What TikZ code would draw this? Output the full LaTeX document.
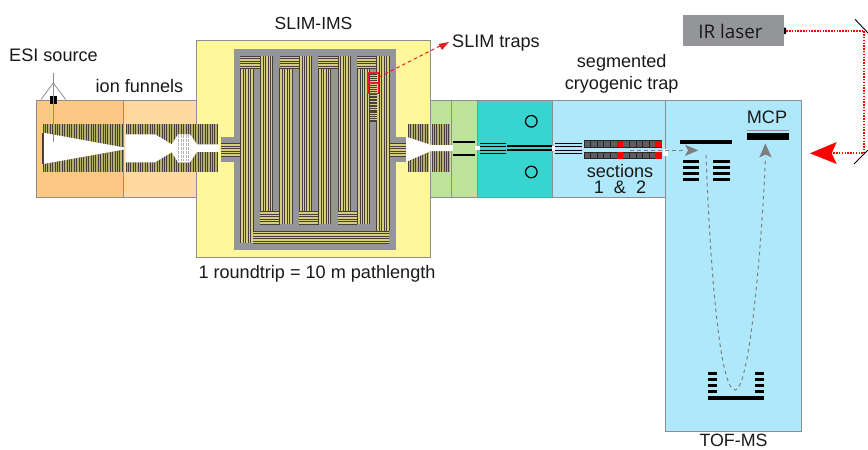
\documentclass[tikz,border=0pt]{standalone}
\usepackage{fontspec}
\setmainfont{Liberation Sans}
\newfontfamily\laserfont{Open Sans}
\definecolor{edgegrey}{HTML}{8C8E90}
\definecolor{slimgrey}{HTML}{939598}
\definecolor{esiorange}{HTML}{FDC785}
\definecolor{funorange}{HTML}{FFD9A0}
\definecolor{slimyellow}{HTML}{FFF799}
\definecolor{trackyellow}{HTML}{D6CD7E}
\definecolor{elecdark}{HTML}{45413A}
\definecolor{ltgreen}{HTML}{BDE39B}
\definecolor{teal2}{HTML}{38D4CF}
\definecolor{ltblue}{HTML}{AEE8FA}
\definecolor{segdark}{HTML}{5C5C5E}
\definecolor{redmark}{HTML}{ED1C24}
\newcommand{\vtrk}[4]{%
  \fill[trackyellow] (#1,#3) rectangle (#2,#4);
  \foreach \i in {0,...,5} {\draw[elecdark,line width=.45pt] ({#1+(#2-#1)*\i/5},#3) -- ({#1+(#2-#1)*\i/5},#4);}}
\newcommand{\htrk}[4]{%
  \fill[trackyellow] (#1,#3) rectangle (#2,#4);
  \foreach \i in {0,...,5} {\draw[elecdark,line width=.45pt] (#1,{#3+(#4-#3)*\i/5}) -- (#2,{#3+(#4-#3)*\i/5});}}
\newcommand{\fnl}[3]{%
  \fill[trackyellow!85!black] (#1,124.3) rectangle (#2,172.3);
  \foreach \x in {#1,#3,...,#2} {\draw[elecdark,line width=.95pt] (\x,124.3) -- (\x,172.3);}}
\newcommand{\bars}[2]{%
  \foreach \y in {#2} {\fill[black] (#1,\y) rectangle ++(\barw,3.5);}}
\newcommand{\seg}[1]{%
  \fill[segdark] (584,#1) rectangle (661.5,#1+6.6);
  \draw[black!85,line width=.6pt] (584,#1) rectangle (661.5,#1+6.6);
  \foreach \x in {590.5,597,603.5,610,629.5,636,642.5,649} {\draw[black!85,line width=.6pt] (\x,#1) -- (\x,#1+6.6);}
  \fill[red] (616.7,#1) rectangle (623.3,#1+6.6);
  \fill[red] (654.5,#1) rectangle (661.5,#1+6.6);}
\tikzset{
  stage/.style={draw=edgegrey,line width=1pt},
  lbl/.style={font=\fontsize{18.1}{20}\selectfont,text=black!90,inner sep=0pt},
  ionpath/.style={draw=slimgrey!85!black,line width=1pt,dash pattern=on 3.5pt off 3.5pt},
  laser/.style={draw=red,line width=1.9pt,dash pattern=on 1.5pt off 1.3pt},
  blackline/.style={draw=black,line width=1.9pt},
  thinline/.style={draw=black,line width=.8pt},
  mirror/.style={draw=black,line width=.9pt},
}
\begin{document}
\begin{tikzpicture}[x=1pt,y=-1pt]
\useasboundingbox (0,0) rectangle (868,450);
% stage boxes
\filldraw[stage,fill=esiorange] (36,100) rectangle (123.5,197);
\filldraw[stage,fill=funorange] (123.5,100) rectangle (196.5,197);
\filldraw[stage,fill=slimyellow] (196.5,40.5) rectangle (430.5,257);
\filldraw[stage,fill=ltgreen] (430.5,100) rectangle (451,197);
\filldraw[stage,fill=ltgreen] (451,100) rectangle (477,197);
\filldraw[stage,fill=teal2] (477,100) rectangle (552.5,197);
\filldraw[stage,fill=ltblue] (552.5,100) rectangle (665.5,197);
\filldraw[stage,fill=ltblue] (665.5,100) rectangle (801,431);
% ESI needle
\draw[edgegrey,line width=.8pt] (41,99.5) -- (53.3,83) -- (65.7,99.5);
\fill[black] (50,96) rectangle (56.7,103.5);
\draw[edgegrey,line width=.9pt] (53.3,72.7) -- (53.3,141.7);
% funnels
\fnl{43}{123}{45.4}
\fnl{126}{218}{128.4}
\fnl{408.5}{429}{410.9}
\fnl{432}{449.5}{434.4}
% white ion channels
\fill[white] (43.3,132.7) -- (124,147.5) -- (124,149.5) -- (43.3,164) -- cycle;
\fill[elecdark] (42,132.7) rectangle (44,164);
\draw[edgegrey,line width=.9pt] (53.3,132) -- (53.3,141.7);
\fill[white] (125.3,134.3) -- (155,134.3) -- (171.7,144.3) -- (178,134.3) -- (190,134.3) -- (197,144.3) -- (218.5,144.3) -- (218.5,151.8) -- (197,151.8) -- (190,162.3) -- (178,162.3) -- (171.7,152.3) -- (155,162.3) -- (125.3,162.3) -- cycle;
\foreach \x in {178.5,181,...,190} {\draw[black!30,line width=.35pt,densely dotted] (\x,134.5) -- (\x,162);}
\fill[white] (405.7,136.5) -- (431,145) -- (453,145) -- (453,151) -- (431,151) -- (405.7,162) -- cycle;
\fill[white] (475,146) rectangle (479.5,150);
\fill[white] (552,146) rectangle (555,150.5);
\fill[white] (663.3,149.3) rectangle (667.7,156);
% SLIM grey board
\fill[slimgrey] (234.3,49) rectangle (395.7,250);
\fill[slimgrey] (221,136.7) rectangle (234.3,162.3);
\fill[slimgrey] (395.7,136.7) rectangle (405.7,162.3);
% SLIM tracks
\begin{scope}[shift={(190,30)},x=.3333pt,y=-.3333pt]
\htrk{93}{151}{340}{378}
\htrk{597}{647}{340}{378}
\vtrk{151}{189}{115}{640}
\htrk{151}{211}{78}{115}
\vtrk{211}{248}{78}{545}
\htrk{211}{269}{545}{582}
\vtrk{269}{306}{115}{582}
\htrk{269}{328}{78}{115}
\vtrk{328}{365}{78}{545}
\htrk{328}{386}{545}{582}
\vtrk{386}{422}{115}{582}
\htrk{385}{444}{78}{115}
\vtrk{444}{481}{78}{545}
\htrk{444}{502}{545}{582}
\vtrk{502}{539}{115}{582}
\htrk{502}{560}{78}{115}
\vtrk{560}{597}{78}{603}
\htrk{539}{560}{128}{158}
\htrk{539}{560}{160}{191}
\htrk{539}{560}{193}{216}
\htrk{539}{560}{220}{245}
\htrk{539}{560}{247}{275}
\htrk{189}{597}{603}{640}
\draw[redmark,line width=1.2pt] (534,129) rectangle (565,159);
\draw[redmark,line width=1.2pt] (534,160) rectangle (565,191);
\end{scope}
% green / teal / blue electrodes
\draw[blackline] (453.3,142) -- (475,142);
\draw[blackline] (453.3,154.7) -- (475,154.7);
\foreach \y in {143.3,146.7,150,153.3} {\draw[thinline] (480,\y) -- (506,\y);}
\draw[blackline] (506.7,145.7) -- (552,145.7);
\draw[blackline] (506.7,150.3) -- (552,150.3);
\draw[black,line width=1.2pt] (531.3,121.3) circle (5.8);
\draw[black,line width=1.2pt] (531.3,172) circle (5.8);
\foreach \y in {143,146.5,150,153.3} {\draw[thinline] (555,\y) -- (581.7,\y);}
\seg{140.7}
\seg{152}
% TOF optics
\fill[black] (680,140) rectangle (731.7,144);
\def\barw{16.5}
\bars{682.7}{159.5,165.5,171.5,177.5}
\bars{713}{159.5,165.5,171.5,177.5}
\def\barw{9}
\bars{708.3}{371.7,377.7,383.7,389.5}
\bars{755}{371.7,377.7,383.7,389.5}
\fill[black] (708.3,396) rectangle (764,399.5);
\draw[slimgrey,line width=1pt] (747.3,130.7) -- (788.5,130.7);
\fill[black] (747.3,132.7) rectangle (788.5,140);
% IR laser
\node[fill=slimgrey,minimum width=101pt,minimum height=30.7pt,inner sep=0pt] (laserbox) at (733.5,30.7) {};
\node[lbl,font=\laserfont\fontsize{18.8}{20}\selectfont] (irlabel) at (730.5,31) {IR laser};
\fill[black] (784,27.5) -- (785.5,27.5) -- (786.8,31) -- (785.5,34) -- (784,34) -- cycle;
% laser path
\coordinate (mirrorA) at (864,30.7);
\coordinate (mirrorB) at (864,153.3);
\coordinate (beamend) at (832,153.3);
\draw[laser] (laserbox.east) ++(2,0) -- (mirrorA) -- (mirrorB) -- (beamend);
\draw[mirror] (855,19.3) -- (868,33);
\draw[mirror] (854,164) -- (868,150);
\fill[red] (810,153.3) -- (836.7,142) -- (831.7,153.3) -- (836.7,164) -- cycle;
% ion paths
\coordinate (iona) at (630,150.3);
\coordinate (ionb) at (686,150.3);
\draw[ionpath] (iona) -- (ionb);
\fill[slimgrey!85!black] (698.3,150.3) -- (685,144.7) -- (688,150.3) -- (685,156) -- cycle;
\coordinate (ionc) at (706,155);
\coordinate (iond) at (735,390);
\coordinate (ione) at (765.5,157);
\draw[ionpath] (ionc) .. controls (709,240) and (718,390) .. (iond) .. controls (750,390) and (762,240) .. (ione);
\fill[slimgrey!85!black] (765.3,143.3) -- (771.7,157.5) -- (765.4,154.5) -- (759.3,157.5) -- cycle;
% labels
\node[lbl] (esi) at (53.5,55) {ESI source};
\node[lbl] (funnels) at (139.5,86) {ion funnels};
\node[lbl,font=\fontsize{17.5}{19}\selectfont] (slimims) at (313.5,23) {SLIM-IMS};
\node[lbl,anchor=west] (traps) at (452,43) {SLIM traps};
\node[lbl,align=center,font=\fontsize{18.1}{21.5}\selectfont] (segtrap) at (621.7,74) {segmented\\cryogenic trap};
\node[lbl,align=center,font=\fontsize{18.1}{16}\selectfont] (sect) at (620,179.5) {sections\\1 \ \& \ 2};
\node[lbl] (mcp) at (767,117) {MCP};
\node[lbl] (round) at (317,274) {1 roundtrip = 10 m pathlength};
\node[lbl,font=\fontsize{17.8}{18}\selectfont] (tof) at (733.5,440.5) {TOF-MS};
% SLIM trap pointer
\coordinate (trapbox) at (379,77);
\coordinate (trapend) at (441,45.5);
\draw[redmark,line width=1pt,dash pattern=on 3.5pt off 3pt] (trapbox) -- (trapend);
\fill[redmark] (449,42) -- (438.5,44) -- (442,50) -- cycle;
\end{tikzpicture}
\end{document}
